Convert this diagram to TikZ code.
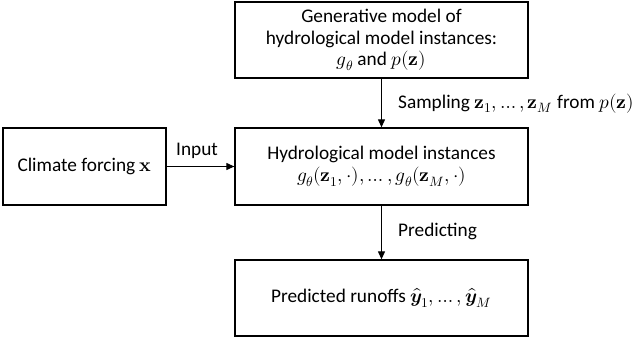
\documentclass[tikz,border=0pt]{standalone}
\usepackage{amsmath}
\usepackage{unicode-math}
\setmainfont{Carlito}
\setmathfont{Latin Modern Math}
\usetikzlibrary{arrows.meta}
\begin{document}
\begin{tikzpicture}[x=1pt,y=-1pt,
  box/.style={draw,line width=1.3pt,inner sep=0pt,align=center,font=\fontsize{19.3}{21.5}\selectfont},
  lbl/.style={inner sep=0pt,font=\fontsize{19.3}{21.5}\selectfont},
  arr/.style={line width=1.1pt,-{Triangle[length=8pt,width=7pt]}}]
\useasboundingbox (0,0) rectangle (640,337);
\node[box,minimum width=293pt,minimum height=76pt] (gen) at (381.5,40) {Generative model of\\hydrological model instances:\\$g_\theta$ and $p(\symbfup{z})$};
\node[box,minimum width=293pt,minimum height=77pt] (hyd) at (381.5,166.5) {Hydrological model instances\\$g_\theta(\symbfup{z}_1,\cdot),\dots,g_\theta(\symbfup{z}_M,\cdot)$};
\node[box,minimum width=163pt,minimum height=77pt] (cli) at (84.5,166.5) {Climate forcing $\symbfup{x}$};
\node[box,minimum width=293pt,minimum height=76pt] (run) at (381.5,298) {Predicted runoffs $\hat{\symbfit{y}}_1,\dots,\hat{\symbfit{y}}_M$};
\draw[arr] (gen) -- (hyd);
\draw[arr] (hyd) -- (run);
\draw[arr] (cli) -- (hyd);
\node[lbl,anchor=base west] (ls) at (398,108) {Sampling $\symbfup{z}_1,\dots,\symbfup{z}_M$ from $p(\symbfup{z})$};
\node[lbl,anchor=base west] (li) at (176,155) {Input};
\node[lbl,anchor=base west] (lp) at (398,236) {Predicting};
\end{tikzpicture}
\end{document}
